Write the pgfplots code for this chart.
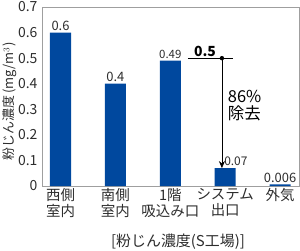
\documentclass[border=0pt]{standalone}
\usepackage{pgfplots}
\pgfplotsset{compat=1.18}
\usetikzlibrary{arrows.meta}
\usepackage{fontspec}
\setmainfont{Noto Sans CJK JP}
\definecolor{barblue}{RGB}{0,72,158}
\definecolor{txt}{RGB}{45,45,45}
\begin{document}
\begin{tikzpicture}[x=1bp,y=1bp]
\path[use as bounding box] (0,0) rectangle (300,251);
\begin{axis}[at={(42bp,65bp)}, anchor=south west, scale only axis,
  width=257bp, height=179bp,
  xmin=-0.337, xmax=4.344, ymin=0, ymax=0.7,
  axis line style={draw=gray!75, line width=0.6pt},
  ytick={0,0.1,0.2,0.3,0.4,0.5,0.6,0.7},
  yticklabels={0,0.1,0.2,0.3,0.4,0.5,0.6,0.7},
  xtick={0,1,2,3,4},
  xticklabels={{西側\\室内},{南側\\室内},{1階\\吸込み口},{システム\\出口},{外気}},
  xticklabel style={align=center, font=\fontsize{14.5}{16}\selectfont, text=txt, yshift=1bp},
  yticklabel style={font=\fontsize{14}{16}\selectfont, text=txt, xshift=-1bp},
  major tick length=0pt,
  clip=false,
]
\addplot[ybar, bar width=0.383, fill=barblue, draw=none] coordinates {(0,0.6) (1,0.4) (2,0.49) (3,0.07) (4,0.006)};
\node[anchor=south, font=\fontsize{13}{14}\selectfont, text=txt, inner sep=1.5bp] at (axis cs:0,0.6) {0.6};
\node[anchor=south, font=\fontsize{13}{14}\selectfont, text=txt, inner sep=1.5bp] at (axis cs:1,0.4) {0.4};
\node[anchor=south, font=\fontsize{11.5}{12}\selectfont, text=txt, inner sep=1.5bp] at (axis cs:2,0.49) {0.49};
\node[anchor=south, font=\fontsize{13}{13}\selectfont, text=txt, inner sep=1.5bp] at (axis cs:4,0.006) {0.006};
\draw[black, line width=0.6pt] (axis cs:2.32,0.5) -- (axis cs:3.14,0.5);
\fill[black] (axis cs:2.94,0.5) circle (2.2bp);
\draw[black, line width=0.6pt, -{Stealth[length=7bp,width=6bp]}] (axis cs:2.94,0.5) -- (axis cs:2.94,0.07);
\node[anchor=south west, font=\bfseries\fontsize{14}{15}\selectfont, inner sep=1bp] at (axis cs:2.41,0.5) {0.5};
\node[anchor=west, font=\fontsize{12}{13}\selectfont, text=txt, inner sep=0.5bp] at (axis cs:2.97,0.098) {0.07};
\node[anchor=west, align=left, font=\fontsize{16.5}{17}\selectfont, inner sep=0pt] at (axis cs:3.045,0.313) {86\%\\除去};
\end{axis}
\node[rotate=90, font=\fontsize{13}{14}\selectfont, text=txt] at (10,149.5) {粉じん濃度\,(mg/m$^3$)};
\node[font=\fontsize{15}{16}\selectfont, text=txt] at (178,9) {[粉じん濃度(S工場)]};
\end{tikzpicture}
\end{document}
